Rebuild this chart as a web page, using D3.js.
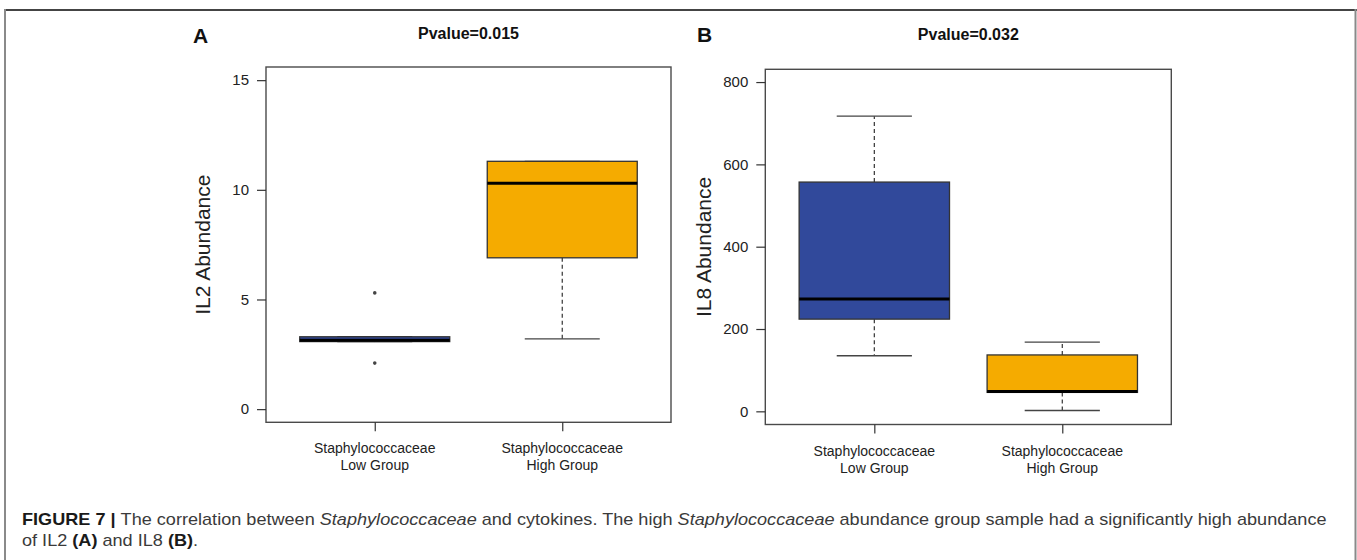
<!DOCTYPE html>
<html>
<head>
<meta charset="utf-8">
<script src="https://cdn.jsdelivr.net/npm/d3@7"></script>
<style>
  html, body { margin: 0; padding: 0; background: #fff; }
  svg { display: block; }
  text { font-family: "Liberation Sans", Arial, Helvetica, sans-serif; }
</style>
</head>
<body>
<svg id="chart" width="1357" height="560"></svg>
<script>
// ---------------- data ----------------
const groupLine1 = ["Staphylococcaceae", "Staphylococcaceae"];
const groupLine2 = ["Low Group", "High Group"];
const groupColors = ["#31499b", "#f5ab00"];

// Panel A: IL2
const il2Min = [3.08, 3.2];
const il2Q1 = [3.08, 6.9];
const il2Median = [3.14, 10.3];
const il2Q3 = [3.3, 11.3];
const il2Max = [3.3, 11.3];
const il2Outliers = [[5.3, 2.1], []];
const il2Ticks = [0, 5, 10, 15];

// Panel B: IL8
const il8Min = [135, 2];
const il8Q1 = [224, 46];
const il8Median = [273, 48];
const il8Q3 = [557, 137];
const il8Max = [717, 168];
const il8Outliers = [[], []];
const il8Ticks = [0, 200, 400, 600, 800];

const pvalueA = "Pvalue=0.015";
const pvalueB = "Pvalue=0.032";

// ---------------- drawing ----------------
const svg = d3.select("#chart");

// figure frame
svg.append("line").attr("x1", 5).attr("x2", 1357).attr("y1", 10).attr("y2", 10)
  .attr("stroke", "#444").attr("stroke-width", 2);
svg.append("line").attr("x1", 5).attr("x2", 5).attr("y1", 9).attr("y2", 560)
  .attr("stroke", "#8a8a8a").attr("stroke-width", 2);
svg.append("line").attr("x1", 1355.5).attr("x2", 1355.5).attr("y1", 9).attr("y2", 560)
  .attr("stroke", "#8a8a8a").attr("stroke-width", 2);

function panel(cfg) {
  const g = svg.append("g");
  const x = d3.scaleLinear().domain([0.42, 2.58]).range([cfg.left, cfg.right]);
  const y = d3.scaleLinear().domain(cfg.yDomain).range([cfg.bottom, cfg.top]);
  const boxHalf = 0.4, capHalf = 0.2;

  const idx = [0, 1];
  idx.forEach(i => {
    const cx = x(i + 1);
    // whiskers (dashed)
    g.append("line").attr("x1", cx).attr("x2", cx)
      .attr("y1", y(cfg.q3[i])).attr("y2", y(cfg.max[i]))
      .attr("stroke", "#333").attr("stroke-width", 1.2).attr("stroke-dasharray", "4,3");
    g.append("line").attr("x1", cx).attr("x2", cx)
      .attr("y1", y(cfg.q1[i])).attr("y2", y(cfg.min[i]))
      .attr("stroke", "#333").attr("stroke-width", 1.2).attr("stroke-dasharray", "4,3");
    // caps
    [cfg.min[i], cfg.max[i]].forEach(v => {
      g.append("line").attr("x1", x(i + 1 - capHalf)).attr("x2", x(i + 1 + capHalf))
        .attr("y1", y(v)).attr("y2", y(v))
        .attr("stroke", "#444").attr("stroke-width", 1.3);
    });
    // box
    g.append("rect")
      .attr("x", x(i + 1 - boxHalf)).attr("width", x(i + 1 + boxHalf) - x(i + 1 - boxHalf))
      .attr("y", y(cfg.q3[i])).attr("height", y(cfg.q1[i]) - y(cfg.q3[i]))
      .attr("fill", groupColors[i]).attr("stroke", "#333").attr("stroke-width", 1.3);
    // median
    g.append("line").attr("x1", x(i + 1 - boxHalf)).attr("x2", x(i + 1 + boxHalf))
      .attr("y1", y(cfg.median[i])).attr("y2", y(cfg.median[i]))
      .attr("stroke", "#000").attr("stroke-width", 3);
    // outliers
    g.selectAll(null).data(cfg.outliers[i]).enter().append("circle")
      .attr("cx", cx).attr("cy", d => y(d)).attr("r", 1.8).attr("fill", "#444");
  });

  // frame
  g.append("rect").attr("x", cfg.left).attr("y", cfg.top)
    .attr("width", cfg.right - cfg.left).attr("height", cfg.bottom - cfg.top)
    .attr("fill", "none").attr("stroke", "#4a4a4a").attr("stroke-width", 1.4);

  // y axis
  const yAxis = g.append("g").attr("transform", `translate(${cfg.left},0)`)
    .call(d3.axisLeft(y).tickValues(cfg.ticks).tickSize(9).tickPadding(8).tickFormat(d3.format("d")));
  yAxis.select(".domain").remove();
  yAxis.selectAll(".tick line").attr("stroke", "#333").attr("stroke-width", 1.2);
  yAxis.selectAll(".tick text").attr("font-size", 15).attr("fill", "#222")
    .attr("font-family", "'Liberation Sans', Arial, sans-serif");

  // x axis
  const xAxis = g.append("g").attr("transform", `translate(0,${cfg.bottom})`)
    .call(d3.axisBottom(x).tickValues([1, 2]).tickSize(9).tickFormat(""));
  xAxis.select(".domain").remove();
  xAxis.selectAll(".tick line").attr("stroke", "#333").attr("stroke-width", 1.2);
  idx.forEach(i => {
    const t = g.append("text").attr("text-anchor", "middle").attr("font-size", 14).attr("fill", "#222");
    t.append("tspan").attr("x", x(i + 1)).attr("y", cfg.bottom + 31).text(groupLine1[i]);
    t.append("tspan").attr("x", x(i + 1)).attr("y", cfg.bottom + 48).text(groupLine2[i]);
  });

  // y title
  g.append("text")
    .attr("transform", `translate(${cfg.ylabX},${(cfg.top + cfg.bottom) / 2}) rotate(-90)`)
    .attr("text-anchor", "middle").attr("dominant-baseline", "central")
    .attr("font-size", 21).attr("fill", "#222").text(cfg.ylab);

  // title
  g.append("text").attr("x", (cfg.left + cfg.right) / 2).attr("y", cfg.titleY)
    .attr("text-anchor", "middle").attr("font-size", 16).attr("font-weight", "bold")
    .attr("fill", "#111").text(cfg.title);

  // panel letter
  g.append("text").attr("x", cfg.letterX).attr("y", cfg.letterY)
    .attr("font-size", 21).attr("font-weight", "bold").attr("fill", "#111").text(cfg.letter);
}

panel({
  left: 266, right: 671, top: 67, bottom: 422.3,
  yDomain: [-0.6, 15.6], ticks: il2Ticks,
  min: il2Min, q1: il2Q1, median: il2Median, q3: il2Q3, max: il2Max, outliers: il2Outliers,
  ylab: "IL2 Abundance", ylabX: 202,
  title: pvalueA, titleY: 39,
  letter: "A", letterX: 193, letterY: 43
});

panel({
  left: 765.3, right: 1171.3, top: 69.3, bottom: 424.5,
  yDomain: [-32, 831], ticks: il8Ticks,
  min: il8Min, q1: il8Q1, median: il8Median, q3: il8Q3, max: il8Max, outliers: il8Outliers,
  ylab: "IL8 Abundance", ylabX: 703,
  title: pvalueB, titleY: 40,
  letter: "B", letterX: 697, letterY: 42
});

// ---------------- caption ----------------
const cap = svg.append("g").attr("transform", "translate(22,0)");
const capFont = "'Liberation Sans Narrow', 'Liberation Sans', Arial, sans-serif";
const l1 = cap.append("text").attr("x", 0).attr("y", 525).attr("font-size", 16)
  .attr("font-family", capFont).attr("fill", "#3a3a3a");
l1.append("tspan").attr("font-weight", "bold").attr("fill", "#1a1a1a").text("FIGURE 7 | ");
l1.append("tspan").text("The correlation between ");
l1.append("tspan").attr("font-style", "italic").text("Staphylococcaceae");
l1.append("tspan").text(" and cytokines. The high ");
l1.append("tspan").attr("font-style", "italic").text("Staphylococcaceae");
l1.append("tspan").text(" abundance group sample had a significantly high abundance");

const l2 = cap.append("text").attr("x", 0).attr("y", 546).attr("font-size", 16)
  .attr("font-family", capFont).attr("fill", "#3a3a3a");
l2.append("tspan").text("of IL2 ");
l2.append("tspan").attr("font-weight", "bold").attr("fill", "#1a1a1a").text("(A)");
l2.append("tspan").text(" and IL8 ");
l2.append("tspan").attr("font-weight", "bold").attr("fill", "#1a1a1a").text("(B)");
l2.append("tspan").text(".");

// fit caption width to reference
const natural = l1.node().getComputedTextLength();
const target = 1327 - 22;
const sx = target / natural;
cap.attr("transform", `translate(22,0) scale(${sx},1)`);
</script>
</body>
</html>
